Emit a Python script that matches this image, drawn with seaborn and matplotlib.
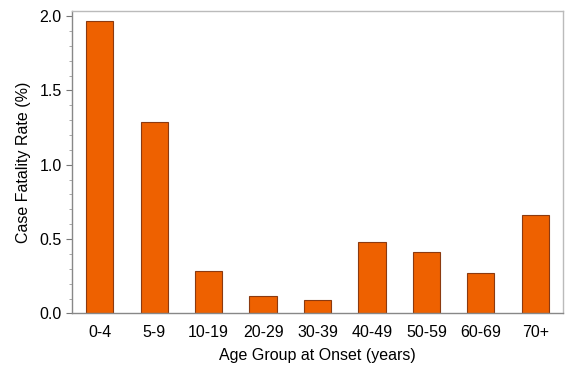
import matplotlib
matplotlib.use('Agg')
import matplotlib.pyplot as plt
import seaborn as sns
import pandas as pd
from matplotlib.ticker import MultipleLocator, FormatStrFormatter

age_groups = ['0-4', '5-9', '10-19', '20-29', '30-39', '40-49', '50-59', '60-69', '70+']
fatality_rate = [1.97, 1.29, 0.285, 0.118, 0.09, 0.48, 0.41, 0.27, 0.66]

df = pd.DataFrame({'age': age_groups, 'cfr': fatality_rate})

sns.set_style('white')
plt.rcParams['font.family'] = ['Liberation Sans', 'DejaVu Sans']
plt.rcParams['text.color'] = 'black'
plt.rcParams['axes.labelcolor'] = 'black'
plt.rcParams['xtick.color'] = 'black'
plt.rcParams['ytick.color'] = 'black'

fig = plt.figure(figsize=(5.81, 3.74), dpi=100)
ax = fig.add_axes([0.124, 0.162, 0.845, 0.809])

sns.barplot(data=df, x='age', y='cfr', color='#EE6100', saturation=1,
            width=0.5, edgecolor='#8B3A10', linewidth=0.8, ax=ax)

ax.set_xlim(-0.51, 8.51)
ax.set_ylim(0, 2.035)
ax.yaxis.set_major_locator(MultipleLocator(0.5))
ax.yaxis.set_minor_locator(MultipleLocator(0.1))
ax.yaxis.set_major_formatter(FormatStrFormatter('%.1f'))
ax.tick_params(axis='y', which='major', direction='out', length=4, width=0.8,
               color='#777777', labelcolor='black', labelsize=11.5, left=True)
ax.tick_params(axis='y', which='minor', direction='out', length=2, width=0.6,
               color='#999999', left=True)
ax.tick_params(axis='x', length=0, labelsize=11.5, labelcolor='black', pad=8)

for side in ['left', 'bottom']:
    ax.spines[side].set_color('#888888')
    ax.spines[side].set_linewidth(1.0)
for side in ['top', 'right']:
    ax.spines[side].set_color('#bbbbbb')
    ax.spines[side].set_linewidth(1.0)

ax.set_xlabel('Age Group at Onset (years)', fontsize=11.5, labelpad=6, color='black')
ax.set_ylabel('Case Fatality Rate (%)', fontsize=11.5, labelpad=6, color='black')

fig.savefig('out.png', dpi=100)
